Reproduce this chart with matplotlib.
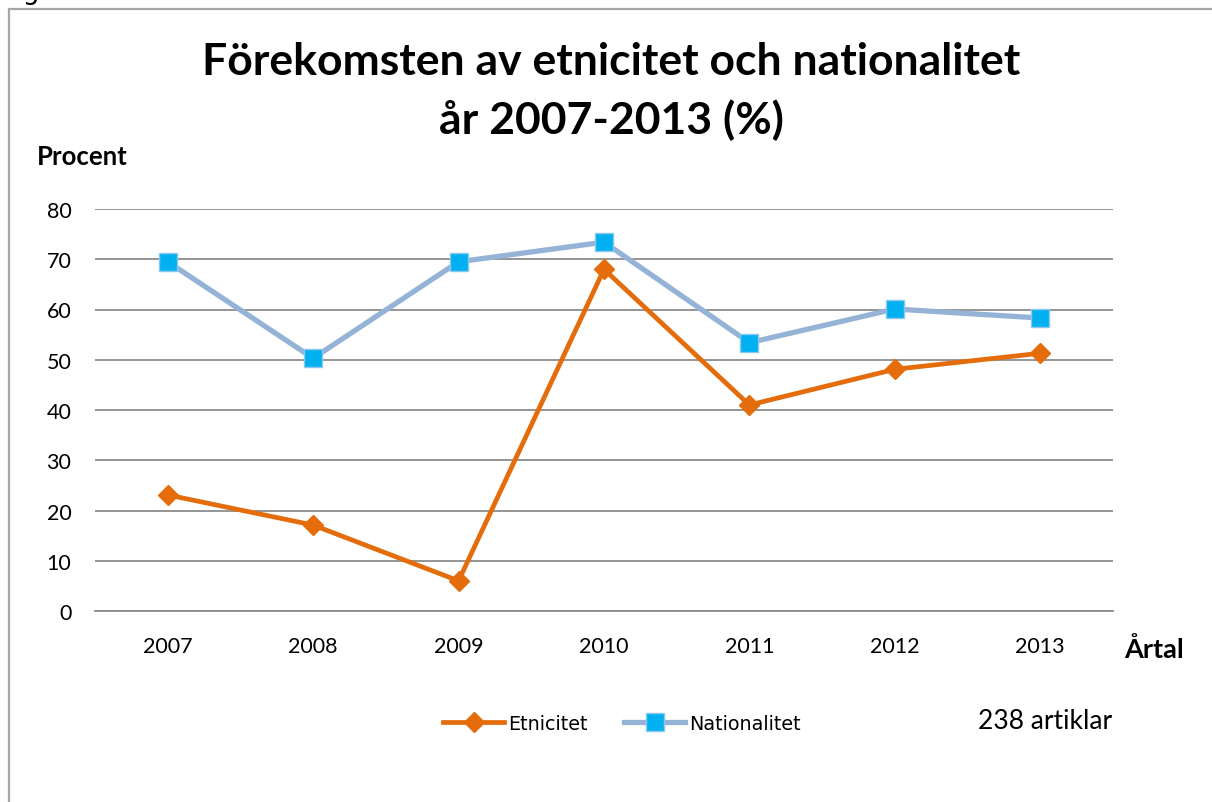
import matplotlib
matplotlib.use('Agg')
from matplotlib import pyplot as plt
from matplotlib.patches import Rectangle

years = ['2007', '2008', '2009', '2010', '2011', '2012', '2013']
etnicitet = [23.1, 17.1, 6.0, 68.0, 41.0, 48.1, 51.3]
nationalitet = [69.5, 50.3, 69.5, 73.4, 53.4, 60.1, 58.3]
yticks = [0, 10, 20, 30, 40, 50, 60, 70, 80]

plt.rcParams['font.family'] = ['Lato', 'DejaVu Sans']

W, H = 1212, 803
fig = plt.figure(figsize=(W / 100, H / 100), dpi=100)

# chart frame (cut at right/bottom like the screenshot)
fig.patches.append(Rectangle((9 / W, -0.05), 1.1, 1 - 9.5 / H + 0.05,
                             transform=fig.transFigure, fill=False,
                             edgecolor='#a6a6a6', linewidth=1.6))
# clipped caption above the frame
fig.text(2 / W, 1.0 + 8 / H, 'Figur 5.1', fontsize=19, va='center', ha='left',
         family='DejaVu Sans')

ax = fig.add_axes([95 / W, 1 - 612 / H, (1113 - 95) / W, (612 - 210) / H])
x = list(range(len(years)))
ax.plot(x, etnicitet, color='#e46c0a', lw=3.4, marker='D', markersize=10,
        label='Etnicitet', zorder=3)
ax.plot(x, nationalitet, color='#95b3d7', lw=3.8, marker='s', markersize=13,
        markerfacecolor='#00b0f0', markeredgecolor='#8cc8ee', markeredgewidth=1,
        label='Nationalitet', zorder=4)

ax.set_xlim(-0.5, len(years) - 0.5)
ax.set_ylim(0, 80)
ax.set_yticks(yticks)
ax.set_xticks(x)
ax.set_xticklabels(years)
ax.yaxis.grid(True, color='#8c8c8c', lw=1.3)
ax.set_axisbelow(True)
for s in ['top', 'right', 'left']:
    ax.spines[s].set_visible(False)
ax.spines['bottom'].set_color('#8c8c8c')
ax.spines['bottom'].set_linewidth(1.3)
ax.tick_params(axis='both', length=0, labelsize=15.5)
ax.tick_params(axis='y', pad=17)
ax.tick_params(axis='x', pad=18)

fig.text(611 / W, 1 - 62 / H, 'Förekomsten av etnicitet och nationalitet',
         fontsize=32, fontweight='bold', ha='center', va='center')
fig.text(611 / W, 1 - 120 / H, 'år 2007-2013 (%)',
         fontsize=32, fontweight='bold', ha='center', va='center')
fig.text(37 / W, 1 - 157 / H, 'Procent', fontsize=18.5, fontweight='bold',
         ha='left', va='center')
fig.text(1124 / W, 1 - 650 / H, 'Årtal', fontsize=19.5, fontweight='bold',
         ha='left', va='center')
fig.text(978 / W, 1 - 722 / H, '238 artiklar', fontsize=19,
         ha='left', va='center')

fig.legend(loc='center', bbox_to_anchor=(622 / W, 1 - 724 / H), ncol=2,
           frameon=False, handlelength=3.2, handletextpad=0.2,
           columnspacing=1.9, prop={'family': 'DejaVu Sans', 'size': 13.8})

fig.savefig('out.png', dpi=100)
